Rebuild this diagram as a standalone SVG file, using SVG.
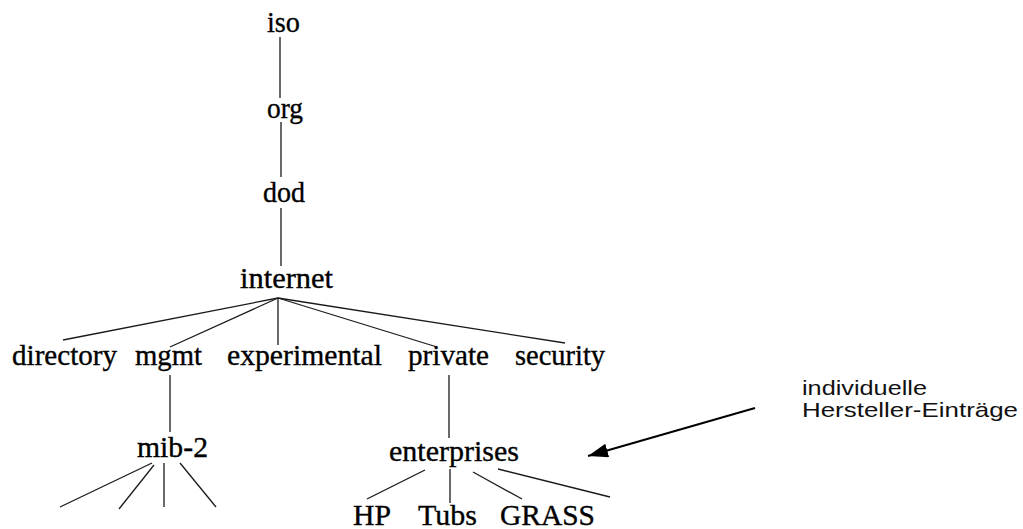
<svg xmlns="http://www.w3.org/2000/svg" width="1023" height="529" viewBox="0 0 1023 529">
  <defs>
    <style>
      .n { font-family: "Liberation Serif", "Times New Roman", serif; font-size: 29px; fill: #000; stroke: #000; stroke-width: 0.35; }
      .note { font-family: "Liberation Sans", Arial, sans-serif; font-size: 21px; fill: #111; }
      .c line { stroke: #1a1a1a; stroke-width: 1.3; fill: none; }
      .arrow { stroke: #000; stroke-width: 2; fill: none; }
    </style>
    <marker id="ah2" viewBox="0 0 20 14" refX="20" refY="7" markerWidth="20" markerHeight="14" markerUnits="userSpaceOnUse" orient="auto">
      <path d="M0,0 L20,7 L0,14 z" fill="#000"/>
    </marker>
  </defs>
  <rect width="1023" height="529" fill="#fff"/>

  <g id="connectors" class="c">
    <line x1="280" y1="37" x2="280" y2="98"/>
    <line x1="281" y1="122" x2="281" y2="177"/>
    <line x1="281" y1="208" x2="281" y2="266"/>
    <line x1="278" y1="298" x2="63" y2="340"/>
    <line x1="278" y1="298" x2="170" y2="347"/>
    <line x1="278" y1="298" x2="278" y2="345"/>
    <line x1="278" y1="298" x2="437" y2="347"/>
    <line x1="278" y1="298" x2="565" y2="343"/>
    <line x1="170" y1="375" x2="170" y2="432"/>
    <line x1="449" y1="375" x2="449" y2="438"/>
    <line x1="152" y1="463" x2="60" y2="507"/>
    <line x1="154" y1="465" x2="119" y2="509"/>
    <line x1="164" y1="463" x2="164" y2="507"/>
    <line x1="180" y1="463" x2="216" y2="507"/>
    <line x1="425" y1="470" x2="367" y2="499"/>
    <line x1="450" y1="469" x2="450" y2="503"/>
    <line x1="473" y1="472" x2="522" y2="499"/>
    <line x1="498" y1="469" x2="610" y2="497"/>
  </g>

  <g id="node-iso"><text class="n" x="267" y="32" textLength="33" lengthAdjust="spacingAndGlyphs">iso</text></g>
  <g id="node-org"><text class="n" x="267" y="118" textLength="36" lengthAdjust="spacingAndGlyphs">org</text></g>
  <g id="node-dod"><text class="n" x="263" y="202" textLength="42" lengthAdjust="spacingAndGlyphs">dod</text></g>
  <g id="node-internet"><text class="n" x="240" y="288" textLength="93" lengthAdjust="spacingAndGlyphs">internet</text></g>
  <g id="node-directory"><text class="n" x="12" y="365" textLength="105" lengthAdjust="spacingAndGlyphs">directory</text></g>
  <g id="node-mgmt"><text class="n" x="135" y="365" textLength="67" lengthAdjust="spacingAndGlyphs">mgmt</text></g>
  <g id="node-experimental"><text class="n" x="227" y="365" textLength="155" lengthAdjust="spacingAndGlyphs">experimental</text></g>
  <g id="node-private"><text class="n" x="408" y="365" textLength="81" lengthAdjust="spacingAndGlyphs">private</text></g>
  <g id="node-security"><text class="n" x="515" y="365" textLength="90" lengthAdjust="spacingAndGlyphs">security</text></g>
  <g id="node-mib2"><text class="n" x="137" y="457" textLength="71" lengthAdjust="spacingAndGlyphs">mib-2</text></g>
  <g id="node-enterprises"><text class="n" x="389" y="461" textLength="130" lengthAdjust="spacingAndGlyphs">enterprises</text></g>
  <g id="node-hp"><text class="n" x="353" y="525" textLength="38" lengthAdjust="spacingAndGlyphs">HP</text></g>
  <g id="node-tubs"><text class="n" x="418" y="525" textLength="59" lengthAdjust="spacingAndGlyphs">Tubs</text></g>
  <g id="node-grass"><text class="n" x="500" y="525" textLength="95" lengthAdjust="spacingAndGlyphs">GRASS</text></g>

  <g id="annotation">
    <line class="arrow" x1="755" y1="408" x2="588" y2="456" marker-end="url(#ah2)"/>
    <text class="note" x="802" y="395" textLength="125" lengthAdjust="spacingAndGlyphs">individuelle</text>
    <text class="note" x="802" y="417" textLength="216" lengthAdjust="spacingAndGlyphs">Hersteller-Einträge</text>
  </g>
</svg>
